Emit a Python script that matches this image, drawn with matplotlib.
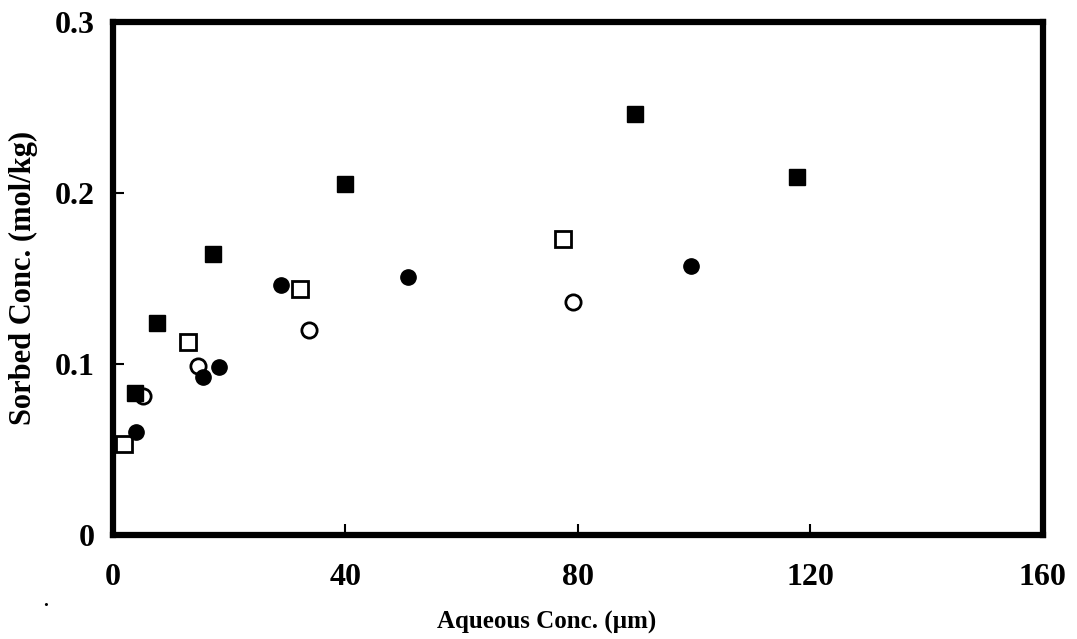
"""sorption isotherm replot: sorbed vs aqueous concentration, four sample sets"""
import numpy as np
from matplotlib import pyplot as plt

plt.rcParams['font.family'] = ['Liberation Serif', 'DejaVu Serif']
plt.rcParams['font.weight'] = 'bold'

#% data
x_fsq = [3.8, 7.6, 17.2, 39.9, 89.8, 117.8]
y_fsq = [0.083, 0.124, 0.164, 0.205, 0.246, 0.209]
x_fci = [4.0, 15.5, 18.2, 28.9, 50.8, 99.4]
y_fci = [0.060, 0.092, 0.098, 0.146, 0.151, 0.157]
x_osq = [1.9, 12.9, 32.2, 77.4]
y_osq = [0.053, 0.113, 0.144, 0.173]
x_oci = [5.2, 14.6, 33.7, 79.2]
y_oci = [0.081, 0.099, 0.120, 0.136]

xticks = [0, 40, 80, 120, 160]
yticks = [0, 0.1, 0.2, 0.3]
yticklabels = ['0', '0.1', '0.2', '0.3']

fig = plt.figure(figsize=(10.77, 6.39), dpi=100)
ax = fig.add_axes([0.105, 0.163, 0.863, 0.803])

ms = 11
ax.plot(x_osq, y_osq, 's', ms=ms, mfc='white', mec='black', mew=2)
ax.plot(x_oci, y_oci, 'o', ms=ms, mfc='white', mec='black', mew=2)
ax.plot(x_fsq, y_fsq, 's', ms=ms, mfc='black', mec='black')
ax.plot(x_fci, y_fci, 'o', ms=ms, mfc='black', mec='black')

ax.set_xlim(0, 160)
ax.set_ylim(0, 0.3)
ax.set_xticks(xticks)
ax.set_yticks(yticks)
ax.set_yticklabels(yticklabels)
ax.tick_params(direction='in', length=8, width=1.5, labelsize=23)
ax.tick_params(axis='x', pad=20)
ax.tick_params(axis='y', pad=13)
for s in ax.spines.values():
    s.set_linewidth(4.5)

ax.set_xlabel('Aqueous Conc. (\u00b5m)', fontsize=18, fontweight='bold')
ax.set_ylabel('Sorbed Conc. (mol/kg)', fontsize=22, fontweight='bold')
ax.xaxis.set_label_coords(0.466, -0.148)
ax.yaxis.set_label_coords(-0.081, 0.5)

# stray speck at lower left of the scan
fig.text(0.04, 0.052, '.', fontsize=14)

fig.savefig('out.png', dpi=100)
